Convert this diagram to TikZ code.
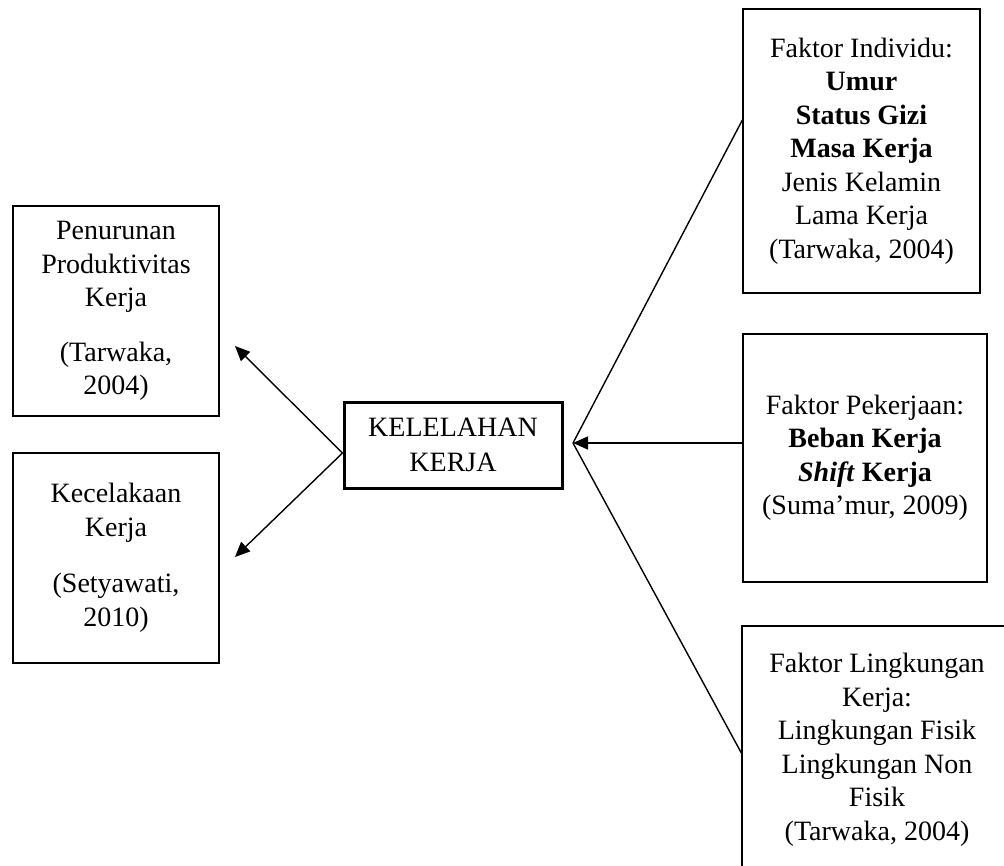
\documentclass[tikz,border=0pt]{standalone}
\usepackage{fontspec}
\setmainfont{Liberation Serif}
\usetikzlibrary{arrows.meta}
\begin{document}
\begin{tikzpicture}[x=1pt,y=-1pt,
  box/.style={draw, line width=1.3pt, align=center, inner sep=0pt,
    font=\fontsize{28}{33.5}\selectfont},
  mainbox/.style={box, line width=3pt},
  conn/.style={line width=1.4pt},
  arr/.style={conn, -{Triangle[length=15pt,width=13pt]}}]
\clip (0,0) rectangle (1004,865);
\fill[white] (0,0) rectangle (1004,865);
\node[box, minimum width=206pt, minimum height=210pt] (pen) at (116,311)
  {Penurunan\\Produktivitas\\Kerja\\[21pt](Tarwaka,\\2004)};
\node[box, minimum width=206pt, minimum height=210pt] (kec) at (116,558)
  {Kecelakaan\\Kerja\\[23pt](Setyawati,\\2010)};
\node[mainbox, minimum width=218pt, minimum height=86pt] (kel) at (453,445)
  {KELELAHAN\\[2pt]KERJA};
\node[box, minimum width=237pt, minimum height=284pt] (ind) at (861.5,151)
  {Faktor Individu:\\\textbf{Umur}\\\textbf{Status Gizi}\\\textbf{Masa Kerja}\\Jenis Kelamin\\Lama Kerja\\(Tarwaka, 2004)};
\node[box, minimum width=244pt, minimum height=248pt] (pek) at (865,458)
  {Faktor Pekerjaan:\\\textbf{Beban Kerja}\\\textbf{\textit{Shift} Kerja}\\(Suma’mur, 2009)};
\node[box, minimum width=270pt, minimum height=248pt] (lin) at (877,750)
  {Faktor Lingkungan\\Kerja:\\Lingkungan Fisik\\Lingkungan Non\\Fisik\\(Tarwaka, 2004)};
\coordinate (tipA) at (235,346);
\coordinate (tipB) at (235,557);
\coordinate (m) at (573,443);
\draw[arr] ([yshift=-8pt]kel.west) -- (tipA);
\draw[arr] ([yshift=-8pt]kel.west) -- (tipB);
\draw[conn] ([yshift=31pt]ind.west) -- (m);
\draw[conn] ([yshift=-3pt]lin.west) -- (m);
\draw[arr] ([yshift=15pt]pek.west) -- (m);
\end{tikzpicture}
\end{document}
